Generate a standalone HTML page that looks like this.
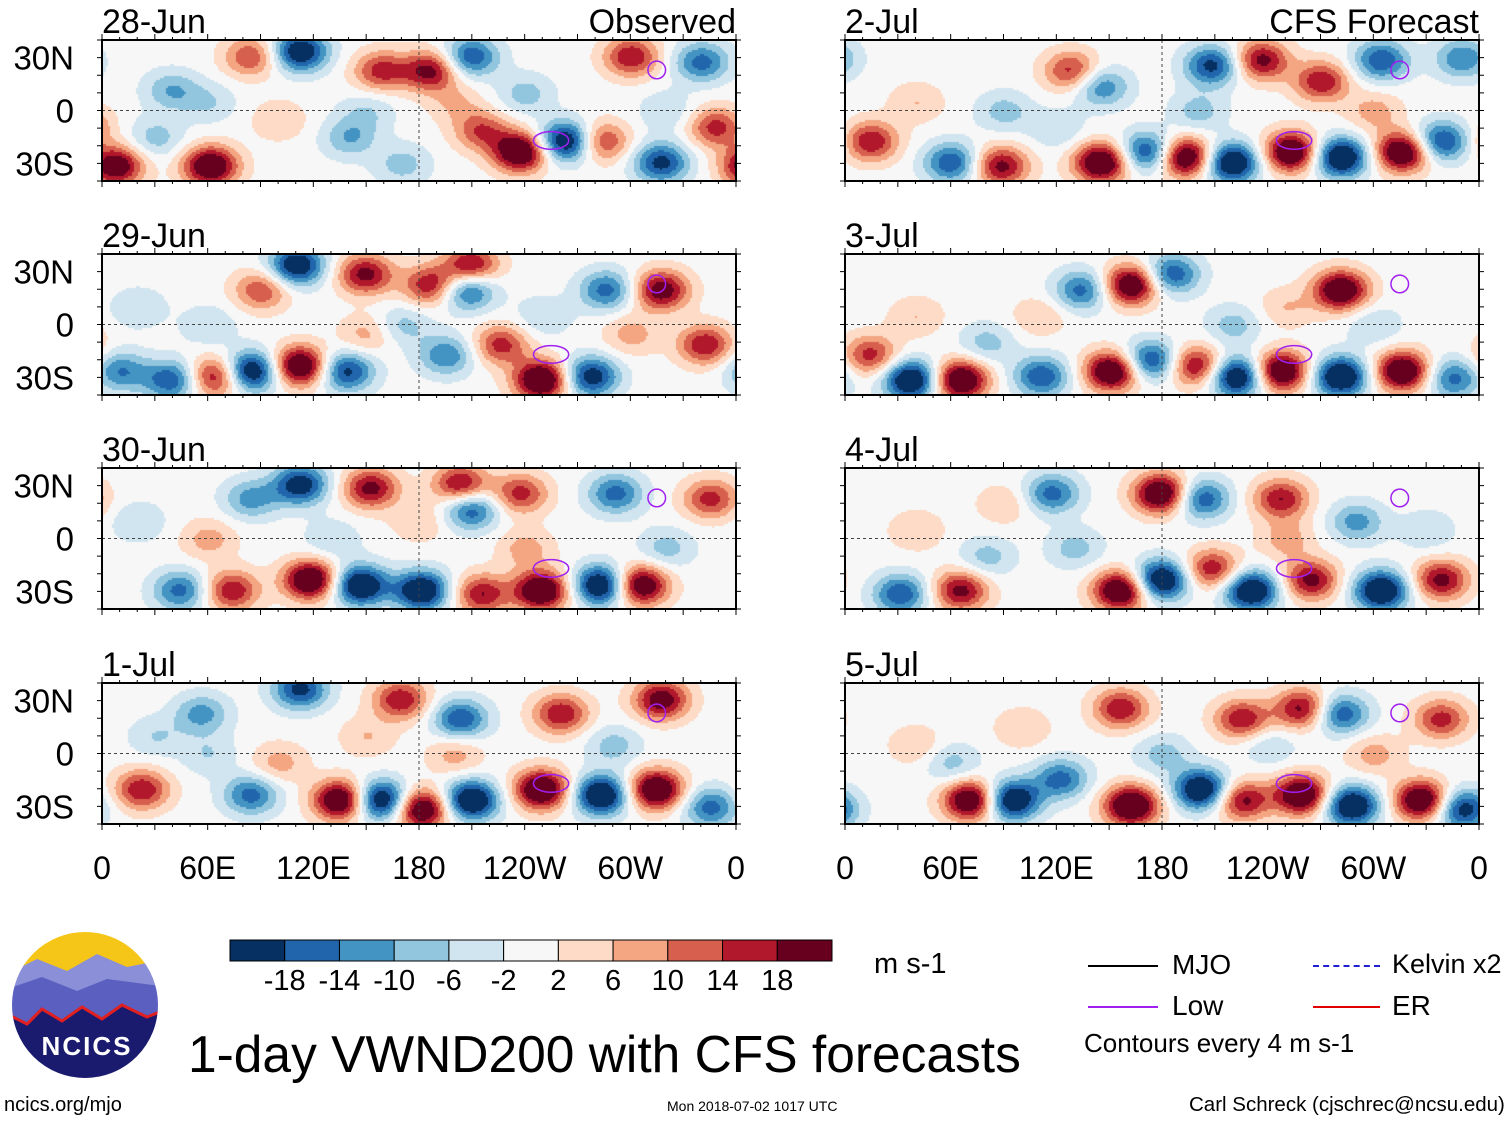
<!DOCTYPE html>
<html><head><meta charset="utf-8">
<style>
body{margin:0;background:#fff;width:1510px;height:1121px;overflow:hidden;position:relative;font-family:"Liberation Sans",sans-serif}
.t{position:absolute;white-space:nowrap;color:#000}
canvas{position:absolute}
</style></head>
<body>
<svg id="svg" width="1510" height="1121" style="position:absolute;left:0;top:0"></svg>
<script>
// ---- data ----
const lonTicks=[0,60,120,180,240,300,360];
const lonTickLabels=["0","60E","120E","180","120W","60W","0"];
const latTicks=[30,0,-30];
const latTickLabels=["30N","0","30S"];
const panelDates=["28-Jun","29-Jun","30-Jun","1-Jul","2-Jul","3-Jul","4-Jul","5-Jul"];
const levels=[-18,-14,-10,-6,-2,2,6,10,14,18];
const levelColors=["#053061","#2166ac","#4393c3","#92c5de","#d1e5f0","#f7f7f7","#fddbc7","#f4a582","#d6604d","#b2182b","#67001f"];
// blobs: [lon, lat, amplitude m/s]
const blobs0=[[237,-23,27],[263,-17,-26],[186,23,20],[112,34,-24],[158,23,16],[61,-31,26],[7,-31,24],[317,-29,-20],[348,-9,16],[300,31,18],[84,31,14],[340,28,-16],[39,12,-10],[215,-11,14],[209,31,-18],[283,-17,16],[140,-15,-10],[60,5,-6],[100,-5,6],[150,0,-6],[200,5,6],[30,-15,-8],[170,-30,-8],[320,0,-6],[240,10,-8]];
const blobs1=[[110,34,-24],[149,29,20],[209,34,20],[207,20,-18],[186,23,18],[112,-23,27],[84,-26,-26],[64,-29,20],[138,-26,-20],[39,-31,-18],[249,-31,28],[226,-11,16],[195,-17,-14],[317,20,22],[286,20,-16],[342,-11,18],[10,-26,-14],[277,-29,-22],[90,20,14],[60,0,-6],[150,-5,8],[250,5,-6],[300,-5,8],[20,10,-6],[170,0,-8]];
const blobs2=[[112,31,-22],[152,29,20],[203,31,20],[209,17,-18],[237,26,16],[118,-23,27],[146,-26,-27],[181,-29,-26],[215,-31,18],[249,-29,27],[283,-26,-27],[305,-26,26],[73,-29,18],[44,-29,-16],[345,23,16],[291,26,-16],[84,23,-12],[60,0,8],[130,0,-6],[240,-5,8],[320,-5,-8],[20,10,-6],[180,10,6]];
const blobs3=[[135,-26,27],[158,-26,-27],[181,-31,27],[209,-26,-27],[249,-20,27],[283,-23,-27],[314,-20,27],[22,-20,18],[84,-23,-16],[317,31,22],[203,20,-18],[169,31,18],[112,37,-20],[260,23,18],[56,23,-12],[345,-30,-16],[100,-5,8],[60,0,-6],[200,0,8],[290,5,-8],[30,10,-6],[150,10,6]];
const blobs4=[[145,-29,27],[171,-23,-20],[193,-26,27],[219,-29,-27],[253,-23,27],[281,-26,-27],[316,-23,27],[338,-17,-20],[88,-31,20],[60,-29,-18],[14,-17,18],[236,29,20],[208,26,-20],[270,17,18],[304,29,-18],[128,23,16],[145,14,-14],[350,30,-14],[90,0,-8],[40,5,6],[200,0,-8],[300,0,8],[120,-10,-6]];
const blobs5=[[151,-26,27],[111,-29,-18],[173,-20,-20],[199,-23,20],[222,-29,-27],[247,-26,27],[281,-29,-27],[316,-26,27],[37,-31,-27],[65,-31,27],[162,23,26],[185,29,-18],[281,20,26],[134,20,-16],[14,-17,16],[345,-30,-16],[80,-10,-8],[40,5,6],[220,0,-8],[300,0,-6],[250,10,6],[110,5,6]];
const blobs6=[[156,-29,27],[179,-23,-27],[208,-17,18],[230,-29,-27],[264,-23,20],[304,-29,-27],[338,-23,20],[65,-29,20],[31,-31,-18],[179,26,27],[202,23,-18],[247,23,18],[117,26,-16],[290,10,-12],[80,-10,-8],[40,5,6],[130,-5,-8],[250,0,8],[330,5,-6],[90,20,6]];
const blobs7=[[162,-29,28],[202,-20,-27],[225,-26,20],[259,-23,27],[287,-29,-27],[327,-26,27],[350,-31,-22],[71,-26,27],[94,-26,-27],[122,-14,-16],[156,26,18],[225,20,18],[259,26,20],[281,23,-18],[338,20,16],[40,5,6],[60,-5,-8],[180,0,-8],[240,5,-6],[300,0,8],[100,15,6]];
const allBlobs=[blobs0,blobs1,blobs2,blobs3,blobs4,blobs5,blobs6,blobs7];
// purple contours [lon, lat, rx(deg), ry(deg)]
const lowContours=[[255,-17,10,5],[315,23,5,5]];

// ---- layout ----
const NS="http://www.w3.org/2000/svg";
const svg=document.getElementById('svg');
const PX=[102,845], PY=[40,254,468,683], PW=634, PH=141;
function mk(tag,attrs,parent){const e=document.createElementNS(NS,tag);for(const k in attrs)e.setAttribute(k,attrs[k]);(parent||svg).appendChild(e);return e;}
function colorFor(v){let i=0;while(i<levels.length&&v>=levels[i])i++;return levelColors[i];}

for(let p=0;p<8;p++){
  const col=p<4?0:1,row=p%4;
  const x0=PX[col],y0=PY[row];
  const xs=lon=>x0+lon/360*PW, ys=lat=>y0+(40-lat)/80*PH;
  const cv=document.createElement('canvas');
  cv.width=PW;cv.height=PH;cv.style.left=x0+'px';cv.style.top=y0+'px';
  
  
  document.body.insertBefore(cv,svg);
  const ctx=cv.getContext('2d');
  const bl=allBlobs[p];
  for(let py=0;py<PH;py+=2){for(let px=0;px<PW;px+=2){
    const lon=px/PW*360, lat=40-py/PH*80;let v=0;
    for(const b of bl){let dl=Math.abs(lon-b[0]);if(dl>180)dl=360-dl;const dy=lat-b[1];v+=b[2]*Math.exp(-(dl*dl)/(2*121)-(dy*dy)/(2*64));}
    ctx.fillStyle=colorFor(v);ctx.fillRect(px,py,2,2);
  }}
  const g=mk('g',{});
  
  
  mk('line',{x1:x0,x2:x0+PW,y1:ys(0),y2:ys(0),stroke:'#444','stroke-dasharray':'3,3','stroke-width':1},g);
  mk('line',{x1:xs(180),x2:xs(180),y1:y0,y2:y0+PH,stroke:'#444','stroke-dasharray':'3,3','stroke-width':1},g);
  for(const c of lowContours){const e=mk('ellipse',{cx:xs(c[0]),cy:ys(c[1]),rx:c[2]/360*PW,ry:c[3]/80*PH,fill:'none',stroke:'#a020f0','stroke-width':1.5},g);
    }
  mk('rect',{x:x0,y:y0,width:PW,height:PH,fill:'none',stroke:'#000','stroke-width':2},g);
  for(let l=0;l<=360;l+=10){const len=l%30==0?6:3;mk('line',{x1:xs(l),x2:xs(l),y1:y0,y2:y0-len,stroke:'#000'},g);mk('line',{x1:xs(l),x2:xs(l),y1:y0+PH,y2:y0+PH+len,stroke:'#000'},g);}
  for(let la=-40;la<=40;la+=10){mk('line',{x1:x0,x2:x0-5,y1:ys(la),y2:ys(la),stroke:'#000'},g);mk('line',{x1:x0+PW,x2:x0+PW+5,y1:ys(la),y2:ys(la),stroke:'#000'},g);}
  const t=mk('text',{x:x0,y:y0-7,'font-size':34,'font-family':'Liberation Sans'},g);t.textContent=panelDates[p];
  
  if(row==0){const r=mk('text',{x:x0+PW,y:y0-7,'font-size':34,'text-anchor':'end','font-family':'Liberation Sans'},g);r.textContent=col==0?'Observed':'CFS Forecast';
    }
  if(col==0){latTicks.forEach((la,i)=>{const a=mk('text',{x:74,y:ys(la)+12,'font-size':33,'text-anchor':'end','font-family':'Liberation Sans'},g);a.textContent=latTickLabels[i];
    });}
  if(row==3){lonTicks.forEach((l,i)=>{const a=mk('text',{x:xs(l),y:879,'font-size':32,'text-anchor':'middle','font-family':'Liberation Sans'},g);a.textContent=lonTickLabels[i];
    });}
}
// colorbar
const cb=mk('g',{});


const cbx=230,cbw=602/levelColors.length;
levelColors.forEach((c,i)=>mk('rect',{x:cbx+i*cbw,y:940,width:cbw,height:21,fill:c,stroke:'#000','stroke-width':1},cb));
levels.forEach((l,i)=>{const a=mk('text',{x:cbx+(i+1)*cbw,y:990,'font-size':29,'text-anchor':'middle','font-family':'Liberation Sans'},cb);a.textContent=l;});
</script>
<div class="t" style="left:874px;top:948px;font-size:29px">m s-1</div>
<div>
<div style="position:absolute;left:1088px;top:965px;width:70px;border-top:2px solid #000"></div>
<div class="t" style="left:1172px;top:949px;font-size:28px">MJO</div>
<div style="position:absolute;left:1088px;top:1006px;width:70px;border-top:2px solid #a020f0"></div>
<div class="t" style="left:1172px;top:990px;font-size:28px">Low</div>
<div style="position:absolute;left:1313px;top:965px;width:67px;border-top:2px dashed #2020d0"></div>
<div class="t" style="left:1392px;top:949px;font-size:27px">Kelvin x2</div>
<div style="position:absolute;left:1313px;top:1006px;width:67px;border-top:2px solid #e00000"></div>
<div class="t" style="left:1392px;top:990px;font-size:28px">ER</div>
<div class="t" style="left:1084px;top:1028px;font-size:26px">Contours every 4 m s-1</div>
</div>
<div class="t" style="left:188px;top:1024px;font-size:51.5px">1-day VWND200 with CFS forecasts</div>
<div class="t" style="left:4px;top:1094px;font-size:20px">ncics.org/mjo</div>
<div class="t" style="left:667px;top:1098px;font-size:14px">Mon 2018-07-02 1017 UTC</div>
<div class="t" style="left:1189px;top:1093px;font-size:20.5px">Carl Schreck (cjschrec@ncsu.edu)</div>
<svg width="160" height="160" style="position:absolute;left:7px;top:929px">
<defs><clipPath id="c"><circle cx="78" cy="76" r="74"/></clipPath></defs>
<g clip-path="url(#c)">
<rect x="0" y="0" width="160" height="160" fill="#1a1a6e"/>
<rect x="0" y="0" width="160" height="50" fill="#f5c518"/>
<path d="M0 45 L30 30 L60 42 L90 25 L120 38 L160 30 L160 80 L0 80Z" fill="#8a8fd8"/>
<path d="M0 60 L35 48 L70 62 L100 50 L160 58 L160 100 L0 100Z" fill="#5a5fc0"/>
<path d="M0 85 L20 95 L35 80 L55 92 L75 78 L95 90 L115 76 L140 88 L160 80 L160 160 L0 160Z" fill="#1a1a6e"/>
<path d="M0 85 L20 95 L35 80 L55 92 L75 78 L95 90 L115 76 L140 88 L160 80" fill="none" stroke="#e02020" stroke-width="3"/>
</g>
<circle cx="78" cy="76" r="74" fill="none" stroke="#fff" stroke-width="2"/>
<text x="80" y="126" font-size="26" font-weight="bold" fill="#fff" text-anchor="middle" font-family="Liberation Sans" letter-spacing="2">NCICS</text>
</svg>
</body></html>
